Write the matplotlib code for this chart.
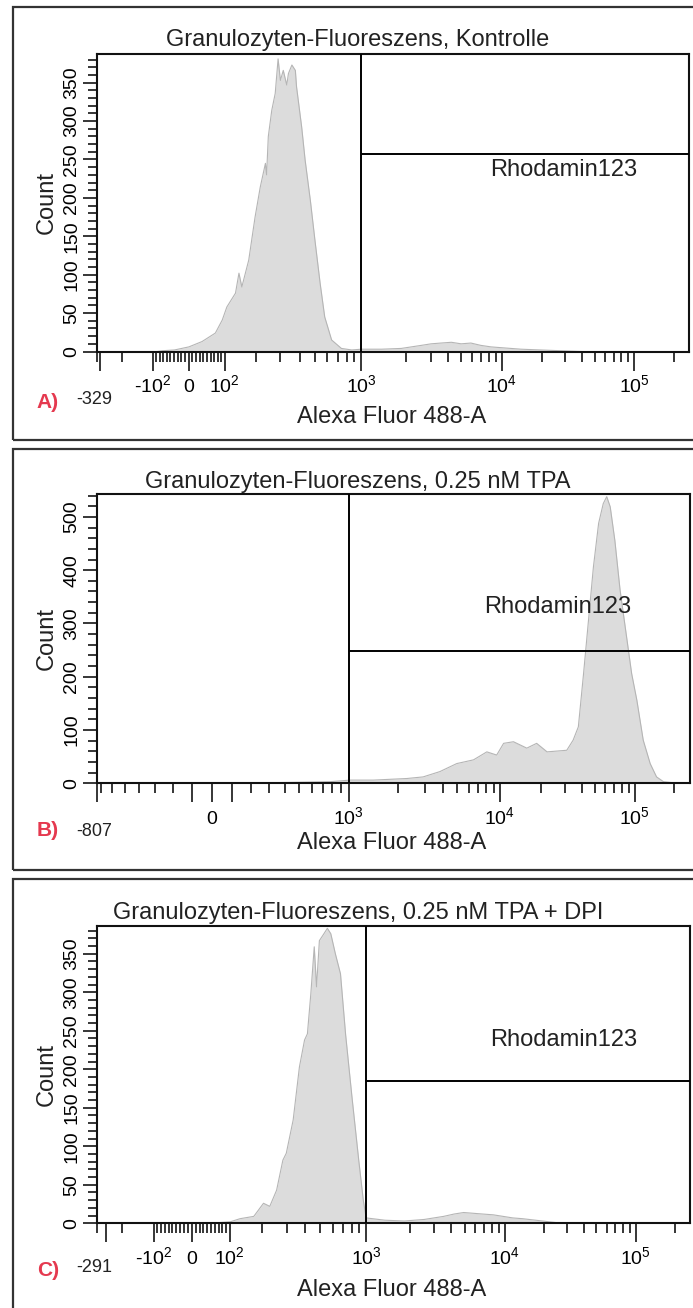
import numpy as np
import matplotlib
matplotlib.use("Agg")
import matplotlib.pyplot as plt
from matplotlib.patches import Rectangle
from matplotlib.ticker import MultipleLocator

plt.rcParams['font.family'] = ['Liberation Sans', 'DejaVu Sans']
NARROW = ['Liberation Sans Narrow', 'Liberation Sans', 'DejaVu Sans']

W_PX, H_PX = 693, 1308
T_MAX = 262144
M_DEC = 4.5

titles = ['Granulozyten-Fluoreszens, Kontrolle',
          'Granulozyten-Fluoreszens, 0.25 nM TPA',
          'Granulozyten-Fluoreszens, 0.25 nM TPA + DPI']
letters = ['A)', 'B)', 'C)']
left_labels = ['-329', '-807', '-291']
width_basis = [0.68, 0.873, 0.66]
y_max = [388, 543, 386]
y_major = [50, 100, 50]
y_minor = [10, 20, 10]
gate_x = 1000
gate_count = [257, 248, 185]
gate_name = 'Rhodamin123'

# histograms: display channel (0-1024) and count
chan_a = [100, 109, 130, 155, 178, 201, 213, 221, 236, 242, 247, 259, 270, 279, 288,
          290, 293, 299, 305, 310, 314, 319, 325, 328, 334, 340, 342, 351, 357, 366,
          374, 383, 391, 403, 420, 438, 455, 490, 524, 559, 576, 593, 611, 628, 645,
          662, 680, 697, 732, 766, 801, 836]
count_a = [0, 1, 2, 6, 13, 24, 41, 58, 76, 102, 84, 119, 175, 214, 245,
           230, 280, 314, 336, 381, 353, 366, 347, 362, 373, 366, 345, 292, 249, 197,
           145, 89, 45, 15, 4, 2, 3, 3, 4, 8, 10, 11, 12, 10, 11,
           8, 6, 5, 3, 2, 1, 0]

chan_b = [250, 294, 351, 402, 437, 477, 535, 563, 592, 621, 650, 673, 690, 702, 719,
          742, 759, 777, 811, 822, 831, 840, 848, 857, 866, 874, 880, 886, 894, 903,
          915, 923, 932, 943, 955, 966, 978, 995, 1010]
count_b = [0, 1, 2, 3, 6, 6, 9, 12, 22, 37, 44, 59, 53, 75, 78,
           66, 75, 59, 62, 81, 106, 206, 300, 406, 488, 525, 538, 519, 456, 363,
           269, 206, 156, 81, 37, 12, 3, 1, 0]

chan_c = [180, 200, 218, 235, 259, 276, 287, 299, 310, 316, 328, 339, 348, 353, 359,
          365, 369, 374, 382, 388, 394, 402, 411, 420, 431, 443, 451, 456, 489, 523,
          558, 592, 610, 627, 644, 661, 679, 696, 713, 730, 765, 800]
count_c = [0, 1, 2, 6, 9, 26, 22, 43, 82, 91, 134, 203, 238, 246, 298,
           359, 307, 367, 376, 383, 376, 350, 324, 245, 165, 82, 30, 7, 4, 3,
           5, 9, 12, 14, 13, 12, 11, 9, 7, 6, 3, 0]

# x ticks (data values)
xmaj_ac = [-100, 0, 100, 1000, 10000, 100000]
xlab_ac = ['-10^2', '0', '10^2', '10^3', '10^4', '10^5']
xmin_ac = [-300, -200] + list(range(-90, 0, 10)) + list(range(10, 100, 10)) \
    + list(range(200, 1000, 100)) + list(range(2000, 10000, 1000)) \
    + list(range(20000, 100000, 10000)) + [200000]
xmaj_b = [-100, 0, 100, 1000, 10000, 100000]
xlab_b = ['', '0', '', '10^3', '10^4', '10^5']
xmin_b = list(range(-700, 0, 100)) + list(range(200, 1000, 100)) \
    + list(range(2000, 10000, 1000)) + list(range(20000, 100000, 10000)) + [200000]

panels = [
    dict(chan=chan_a, count=count_a, xmaj=xmaj_ac, xlab=xlab_ac, xmin=xmin_ac),
    dict(chan=chan_b, count=count_b, xmaj=xmaj_b, xlab=xlab_b, xmin=xmin_b),
    dict(chan=chan_c, count=count_c, xmaj=xmaj_ac, xlab=xlab_ac, xmin=xmin_ac),
]


def width_to_p(w):
    lo, hi = 1.0001, 100.0
    for _ in range(80):
        mid = 0.5 * (lo + hi)
        if 2 * mid * np.log10(mid) / (mid + 1) < w:
            lo = mid
        else:
            hi = mid
    return 0.5 * (lo + hi)


def logicle_data(y, w):
    # display (decades, 0..M) -> data value
    p = width_to_p(w)
    y = np.asarray(y, float)
    yy = np.where(y >= w, y, 2 * w - y) - w
    s = T_MAX * 10 ** (-(M_DEC - w)) * (10 ** yy - p ** 2 * 10 ** (-yy / p) + p ** 2 - 1)
    return np.where(y >= w, s, -s)


def logicle_funcs(w):
    grid_y = np.linspace(-1.0, M_DEC + 1.0, 40001)
    grid_x = logicle_data(grid_y, w)
    return (lambda x: np.interp(x, grid_x, grid_y)), (lambda y: logicle_data(y, w))


def tick_text(s):
    # "10^3" -> 10 with superscript, keep a plain hyphen for negatives
    if '^' not in s:
        return s
    base, exp = s.split('^')
    sign = '-' if base.startswith('-') else ''
    return sign + r'$\mathregular{%s^{%s}}$' % (base.lstrip('-'), exp)


def fx(x):
    return x / W_PX


def fy(y):
    return 1 - y / H_PX


fig = plt.figure(figsize=(W_PX / 100, H_PX / 100), dpi=100)

# pixel boxes: (left, top, right, bottom) of plot areas and panel frames
axes_px = [(97, 53.5, 689, 351.5), (97, 494, 690, 783.3), (97, 926, 690, 1223.3)]
frame_px = [(13, 7, 710, 440), (13, 449, 710, 870), (13, 879, 710, 1330)]
title_y = [40, 482, 913]
xlabel_y = [417, 843, 1290]
leftlab_y = [400, 831, 1268]
letter_y = [402, 830, 1271]
text_pos = [(0.664, 0.609), (0.653, 0.609), (0.663, 0.617)]

for i, pn in enumerate(panels):
    l, t, r, b = axes_px[i]
    ax = fig.add_axes([fx(l), fy(b), (r - l) / W_PX, (b - t) / H_PX])
    w = width_basis[i]
    ax.set_xscale('function', functions=logicle_funcs(w))
    x_lo = float(logicle_data(0.0, w))
    ax.set_xlim(x_lo, T_MAX)
    ax.set_ylim(0, y_max[i])

    xs = logicle_data(np.array(pn['chan']) / 1024 * M_DEC, w)
    ax.fill_between(xs, pn['count'], 0, color='#dcdcdc', lw=0, zorder=1)
    ax.plot(xs, pn['count'], color='#b5b5b5', lw=0.8, zorder=2)

    # gate
    ax.axvline(gate_x, color='black', lw=1.4, zorder=3)
    ax.hlines(gate_count[i], gate_x, T_MAX, color='black', lw=1.4, zorder=3)
    ax.text(text_pos[i][0], text_pos[i][1], gate_name, transform=ax.transAxes,
            ha='left', va='center', fontsize=17, color='#222222')

    # ticks
    labs = [''] + [tick_text(s) for s in pn['xlab']]
    ax.set_xticks([x_lo] + pn['xmaj'], labs, va='baseline', fontfamily=NARROW)
    ax.set_xticks(pn['xmin'], minor=True)
    yt = list(range(0, y_max[i], y_major[i]))
    ax.set_yticks(yt, [str(v) for v in yt], rotation=90, va='center', fontfamily=NARROW)
    ax.yaxis.set_minor_locator(MultipleLocator(y_minor[i]))
    ax.tick_params(axis='x', which='major', direction='out', length=14, width=1.1,
                   pad=15.5, labelsize=14, color='black')
    ax.tick_params(axis='x', which='minor', direction='out', length=7, width=1.1)
    ax.tick_params(axis='y', which='major', direction='out', length=10, width=1.1,
                   pad=2, labelsize=14)
    ax.tick_params(axis='y', which='minor', direction='out', length=6.5, width=1.1)
    for sp in ax.spines.values():
        sp.set_linewidth(1.5)
        sp.set_color('#111111')

    # texts around the plot
    fig.text(fx(358), fy(title_y[i]), titles[i], ha='center', va='center',
             fontsize=17, color='#222222')
    fig.text(fx(392), fy(xlabel_y[i]), 'Alexa Fluor 488-A', ha='center', va='center',
             fontsize=17, color='#222222')
    fig.text(fx(47), fy((t + b) / 2), 'Count', rotation=90, ha='center', va='center',
             fontsize=17, color='#222222')
    fig.text(fx(94), fy(leftlab_y[i]), left_labels[i], ha='center', va='center',
             fontsize=13, fontfamily=NARROW, color='#222222')
    fig.text(fx(48), fy(letter_y[i]), letters[i], ha='center', va='center',
             fontsize=15, fontweight='bold', color='#e5394f')

    fl, ft, fr, fb = frame_px[i]
    fig.add_artist(Rectangle((fx(fl), fy(fb)), (fr - fl) / W_PX, (fb - ft) / H_PX,
                             transform=fig.transFigure, fill=False, lw=1.6,
                             ec='#333333'))

fig.savefig('out.png', dpi=100)
